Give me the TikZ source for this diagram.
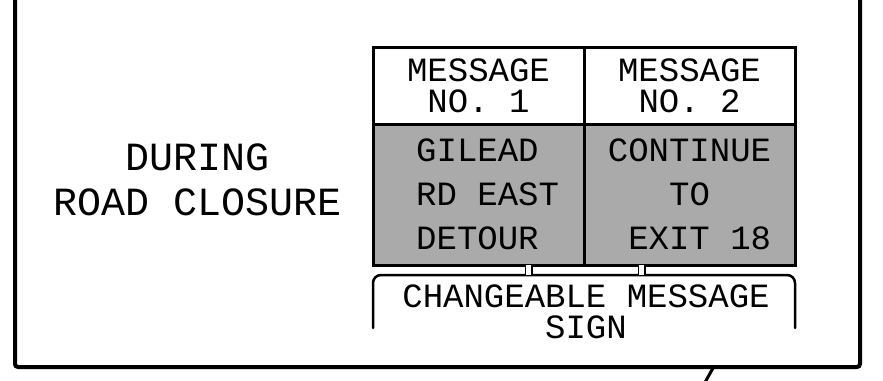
\documentclass[tikz,border=0pt]{standalone}
\usepackage{fontspec}
\setmonofont{Liberation Mono}
\usepackage{tikz}
\usetikzlibrary{positioning,calc}
\usepackage{xcolor}
\definecolor{signgray}{RGB}{170,170,170}
\tikzset{
  panel/.style={draw,line width=3pt,outer sep=0pt,inner sep=0pt,minimum width=211pt,align=center,font=\ttfamily\fontsize{34}{31}\selectfont},
  msgbody/.style={panel,fill=signgray,minimum height=141pt,font=\ttfamily\fontsize{34}{44}\selectfont},
  signtext/.style={inner sep=0pt,align=center,font=\ttfamily\fontsize{34}{31}\selectfont},
  post/.style={double,double distance=5pt,line width=1.5pt},
  bracket/.style={line width=2.5pt,rounded corners=8pt,line cap=round},
  frame/.style={line width=4pt,rounded corners=3pt}
}

\begin{document}
\begin{tikzpicture}[x=1pt,y=-1pt]
\useasboundingbox (0,0) rectangle (883,380);
% sheet frame
\draw[frame] (15,-10) |- (860,367) -- (860,-10);
\coordinate (leader) at (713,368);
\draw[line width=3pt] (leader) -- ++(-10,18);
\node[inner sep=0pt,align=center,font=\ttfamily\fontsize{40}{45}\selectfont] (during) at (198,180) {DURING\\ROAD CLOSURE};
% sign panels
\node[panel,minimum height=77pt] (head1) at (478.5,85.5) {MESSAGE\\NO. 1};
\node[msgbody,below=0pt of head1] (body1) {};
\node[signtext,anchor=west,align=left,font=\ttfamily\fontsize{34}{44}\selectfont] (msg1) at ([xshift=43pt]body1.west) {GILEAD\\RD EAST\\DETOUR};
\node[panel,minimum height=77pt,right=0pt of head1] (head2) {MESSAGE\\NO. 2};
\node[msgbody,below=0pt of head2] (body2) {CONTINUE\\TO\\\phantom{E}EXIT 18};
% support and label
\coordinate (brk) at (584,275);
\draw[bracket] (373,328) |- (brk) -| (795,328);
\draw[post] ([xshift=50pt]body1.south) -- ([xshift=50pt]body1.south |- brk);
\draw[post] ([xshift=-48pt]body2.south) -- ([xshift=-48pt]body2.south |- brk);
\node[signtext] (cms) at (586,311.5) {CHANGEABLE MESSAGE\\SIGN};
\end{tikzpicture}
\end{document}
